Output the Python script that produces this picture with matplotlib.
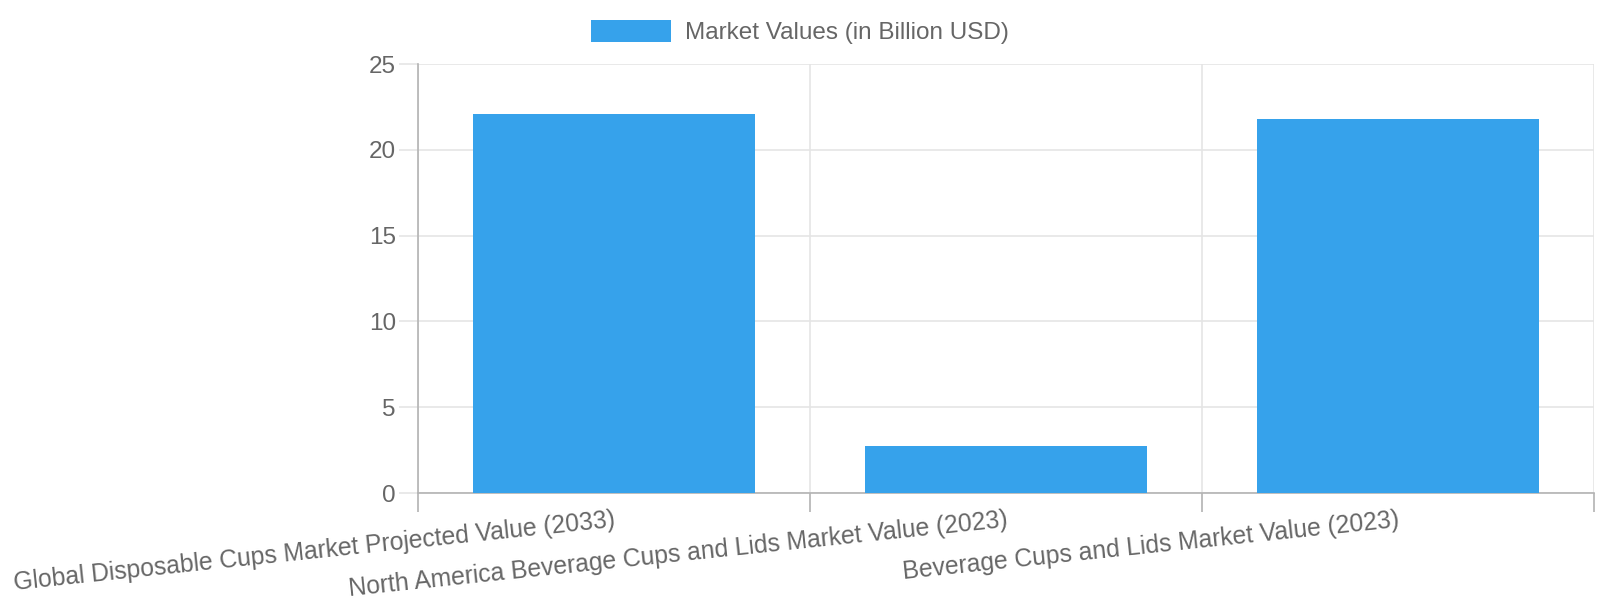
import matplotlib
matplotlib.use("Agg")
import matplotlib.pyplot as plt
from matplotlib.patches import Patch

plt.rcParams['font.family'] = ['Liberation Sans', 'DejaVu Sans']

# data
categories = [
    "Global Disposable Cups Market Projected Value (2033)",
    "North America Beverage Cups and Lids Market Value (2023)",
    "Beverage Cups and Lids Market Value (2023)",
]
values = [22.1, 2.76, 21.8]
series_label = "Market Values (in Billion USD)"
y_ticks = [0, 5, 10, 15, 20, 25]

bar_color = "#36A2EB"
text_color = "#666666"
grid_color = "#e5e5e5"
axis_color = "#b3b3b3"

fig = plt.figure(figsize=(16, 6), dpi=100)
ax = fig.add_axes([0.26125, 0.1783, 0.735, 0.715])

x = list(range(len(categories)))
ax.bar(x, values, width=0.72, color=bar_color, zorder=3)

ax.set_xlim(-0.5, len(categories) - 0.5)
ax.set_ylim(0, 25)
ax.set_yticks(y_ticks)
ax.set_yticklabels([str(v) for v in y_ticks])

ax.set_xticks(x)
ax.set_xticklabels(categories, rotation=6, ha='right', va='top',
                   rotation_mode='anchor')
ax.set_xticks([i - 0.5 for i in range(len(categories) + 1)], minor=True)

ax.tick_params(axis='x', which='major', length=0, pad=11,
               labelsize=17.8, labelcolor=text_color)
ax.tick_params(axis='x', which='minor', length=14, width=1.2, color=axis_color)
ax.tick_params(axis='y', length=14, width=1.2, color=grid_color, pad=2,
               labelsize=17.5, labelcolor=text_color)

ax.grid(True, axis='y', which='major', color=grid_color, linewidth=1.2, zorder=0)
ax.grid(True, axis='x', which='minor', color=grid_color, linewidth=1.2, zorder=0)

for side in ['top', 'right']:
    ax.spines[side].set_visible(False)
for side in ['left', 'bottom']:
    ax.spines[side].set_color(axis_color)
    ax.spines[side].set_linewidth(1.2)

handle = Patch(facecolor=bar_color, edgecolor='none', label=series_label)
fig.legend(handles=[handle], loc='center', bbox_to_anchor=(0.5, 0.9467),
           frameon=False, fontsize=17.5, labelcolor=text_color,
           handlelength=3.3, handleheight=1.05, handletextpad=0.55)

fig.savefig("out.png", dpi=100)
